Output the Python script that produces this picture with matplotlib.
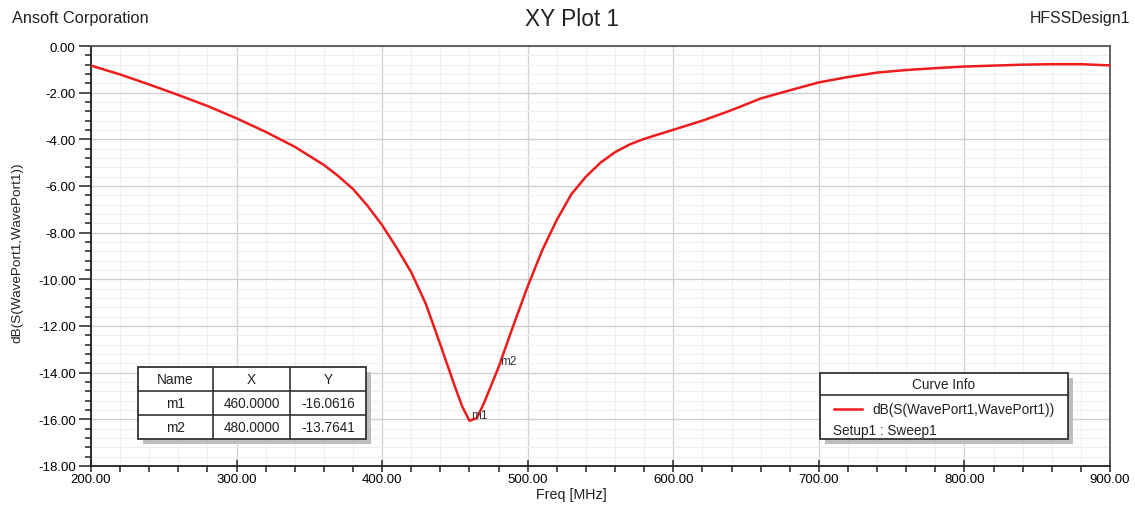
import matplotlib
matplotlib.use("Agg")
import matplotlib.pyplot as plt
from matplotlib.patches import Rectangle
from matplotlib.ticker import MultipleLocator, FormatStrFormatter

plt.rcParams["font.family"] = ["Liberation Sans", "DejaVu Sans"]

# S11 sweep, WavePort1
freq_mhz = [200, 220, 240, 260, 280, 300, 320, 340, 360, 370, 380, 390, 400,
            410, 420, 430, 440, 450, 455, 460, 465, 470, 480, 490, 500, 510,
            520, 530, 540, 550, 560, 570, 580, 600, 620, 640, 660, 680, 700,
            720, 740, 760, 780, 800, 820, 840, 860, 880, 900]
s11_db = [-0.84, -1.22, -1.65, -2.10, -2.57, -3.10, -3.68, -4.32, -5.10, -5.58,
          -6.13, -6.85, -7.68, -8.65, -9.70, -11.05, -12.80, -14.60, -15.45,
          -16.0616, -15.95, -15.30, -13.7641, -12.00, -10.30, -8.75, -7.45,
          -6.35, -5.60, -5.00, -4.55, -4.22, -3.98, -3.59, -3.20, -2.75, -2.25,
          -1.90, -1.56, -1.33, -1.14, -1.03, -0.95, -0.88, -0.84, -0.80, -0.78,
          -0.78, -0.83]

marker_names = ["m1", "m2"]
marker_x = [460.0, 480.0]
marker_y = [-16.0616, -13.7641]

curve_name = "dB(S(WavePort1,WavePort1))"
sweep_name = "Setup1 : Sweep1"

W, H = 1135, 506
fig = plt.figure(figsize=(W / 100, H / 100), dpi=100)
fig.patch.set_facecolor("white")


def fx(px):
    return px / W


def fy(py):
    return 1 - py / H


ax = fig.add_axes([fx(91), fy(467), fx(1110) - fx(91), fy(47) - fy(467)])
ax.plot(freq_mhz, s11_db, color="#ee1c1c", linewidth=1.8, zorder=3)

ax.set_xlim(200, 900)
ax.set_ylim(-18, 0)
ax.xaxis.set_major_locator(MultipleLocator(100))
ax.xaxis.set_minor_locator(MultipleLocator(20))
ax.yaxis.set_major_locator(MultipleLocator(2))
ax.yaxis.set_minor_locator(MultipleLocator(0.4))
ax.xaxis.set_major_formatter(FormatStrFormatter("%.2f"))
ax.yaxis.set_major_formatter(FormatStrFormatter("%.2f"))
ax.grid(which="major", color="#cfcfcf", linewidth=0.9)
ax.grid(which="minor", color="#eeeeee", linewidth=0.7)
ax.set_axisbelow(True)
ax.tick_params(axis="x", which="major", direction="inout", length=8, width=1.2,
               labelsize=9.5, color="#333333", pad=1)
ax.tick_params(axis="y", which="major", direction="out", length=9, width=1.2,
               labelsize=9.5, color="#333333", pad=2)
ax.tick_params(which="minor", direction="out", length=4.5, width=1.2,
               color="#333333")
for side in ["left", "bottom"]:
    ax.spines[side].set_color("#222222")
    ax.spines[side].set_linewidth(1.3)
for side in ["top", "right"]:
    ax.spines[side].set_color("#555555")
    ax.spines[side].set_linewidth(1.3)

# marker labels on the curve
for name, mx, my in zip(marker_names, marker_x, marker_y):
    ax.annotate(name, (mx, my), xytext=(1, 2), textcoords="offset points",
                fontsize=8.5, color="#333333", zorder=4)

fig.text(fx(12), fy(18), "Ansoft Corporation", fontsize=11.8, va="center", color="#222222")
fig.text(fx(572), fy(20), "XY Plot 1", fontsize=16.3, ha="center", va="center", color="#222222")
fig.text(fx(1130), fy(18), "HFSSDesign1", fontsize=11.4, ha="right", va="center", color="#222222")
fig.text(fx(17), fy(253), "dB(S(WavePort1,WavePort1))", fontsize=9.7, rotation=90,
         ha="center", va="center", color="#222222")
fig.text(fx(571), fy(495), "Freq [MHz]", fontsize=10.3, ha="center", va="center", color="#222222")


def box(x0, y0, x1, y1):
    # shadow first, then white body
    fig.add_artist(Rectangle((fx(x0 + 5), fy(y1 + 5)), fx(x1 - x0), fy(y0) - fy(y1),
                             facecolor="#bdbdbd", edgecolor="none", zorder=5))
    fig.add_artist(Rectangle((fx(x0), fy(y1)), fx(x1 - x0), fy(y0) - fy(y1),
                             facecolor="white", edgecolor="#333333", linewidth=1.3, zorder=6))


def hline(x0, x1, y, lw=1.2, color="#333333"):
    fig.add_artist(plt.Line2D([fx(x0), fx(x1)], [fy(y), fy(y)], color=color,
                              linewidth=lw, zorder=7))


def vline(x, y0, y1):
    fig.add_artist(plt.Line2D([fx(x), fx(x)], [fy(y0), fy(y1)], color="#333333",
                              linewidth=1.2, zorder=7))


# marker table
col_x = [138, 213, 290, 366]
row_y = [368, 392, 416, 440]
box(col_x[0], row_y[0], col_x[-1], row_y[-1])
for y in row_y[1:-1]:
    hline(col_x[0], col_x[-1], y)
for x in col_x[1:-1]:
    vline(x, row_y[0], row_y[-1])
rows = [["Name", "X", "Y"]] + [[n, f"{mx:.4f}", f"{my:.4f}"]
                               for n, mx, my in zip(marker_names, marker_x, marker_y)]
for r, cells in enumerate(rows):
    yc = (row_y[r] + row_y[r + 1]) / 2
    for c, txt in enumerate(cells):
        xc = (col_x[c] + col_x[c + 1]) / 2
        fig.text(fx(xc), fy(yc), txt, fontsize=9.8, ha="center", va="center",
                 color="#222222", zorder=8)

# curve info legend
box(820, 374, 1068, 440)
hline(820, 1068, 396)
fig.text(fx(944), fy(385), "Curve Info", fontsize=9.8, ha="center", va="center",
         color="#222222", zorder=8)
hline(834, 862, 410, lw=1.8, color="#ee1c1c")
fig.text(fx(872), fy(410), curve_name, fontsize=9.8, va="center", color="#222222", zorder=8)
fig.text(fx(833), fy(431), sweep_name, fontsize=9.8, va="center", color="#222222", zorder=8)

fig.savefig("out.png", dpi=100)
